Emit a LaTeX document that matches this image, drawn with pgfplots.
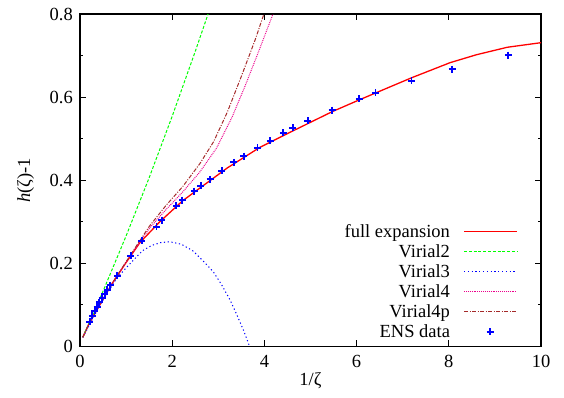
\documentclass[border=0pt]{standalone}
\usepackage{pgfplots}
\pgfplotsset{compat=1.18}
\usepackage{fontspec}
\setmainfont{Liberation Serif}
\definecolor{vbrown}{RGB}{165,42,42}
\begin{document}
\fontsize{18.5bp}{21bp}\selectfont%
\begin{tikzpicture}
\useasboundingbox (-80bp,-51.5bp) rectangle (484bp,346.5bp);
\begin{axis}[
  at={(0,0)}, anchor=south west,
  scale only axis, width=461bp, height=332.5bp,
  xmin=0, xmax=10, ymin=0, ymax=0.8,
  xtick={0,2,4,6,8,10}, ytick={0,0.2,0.4,0.6,0.8},
  minor ytick={0.1,0.3,0.5,0.7},
  tick align=inside, tick pos=both,
  major tick length=6bp, minor tick length=3.5bp,
  axis line style={line width=1.6bp},
  every tick/.style={black, line width=1bp},
  /pgf/number format/assume math mode=true,
  /pgf/number format/fixed,
  yticklabel style={inner xsep=0pt, xshift=-7bp},
  xticklabel style={inner ysep=0pt, yshift=-8.5bp},
  xlabel={1/ζ}, ylabel={\textit{h}(ζ)-1},
  every axis x label/.style={at={(axis description cs:0.5,-0.1038)}, anchor=center},
  every axis y label/.style={at={(axis description cs:-0.118,0.5)}, anchor=center, rotate=90},
]
% full expansion
\addplot[red, line width=1.3bp, forget plot] coordinates {
(0.06,0.022)(0.2,0.056)(0.47,0.108)(0.7,0.152)(1.0,0.202)(1.3,0.250)(1.73,0.300)
(2.22,0.350)(2.45,0.369)(3.2,0.430)(3.9,0.479)(4.55,0.515)(5.47,0.565)(6.05,0.593)
(7.18,0.646)(8.03,0.683)(8.6,0.702)(9.27,0.720)(10,0.731)};
% Virial2
\addplot[green, line width=1bp, dash pattern=on 3bp off 1.8bp, forget plot] coordinates {
(0.06,0.022)(0.5,0.133)(1.0,0.266)(1.5,0.406)(2.0,0.554)(2.5,0.710)(2.8,0.807)};
% Virial3
\addplot[blue, line width=1bp, dash pattern=on 1.2bp off 2.6bp, forget plot] coordinates {
(0.06,0.022)(0.47,0.107)(0.8,0.165)(1.1,0.201)(1.35,0.230)(1.55,0.243)(1.75,0.250)
(1.95,0.252)(2.2,0.246)(2.45,0.230)(2.67,0.206)(2.89,0.180)(3.07,0.149)(3.25,0.113)
(3.40,0.077)(3.54,0.041)(3.67,0.003)(3.68,0)};
% Virial4
\addplot[magenta, line width=1bp, dash pattern=on 0.9bp off 1bp, forget plot] coordinates {
(0.06,0.022)(0.2,0.056)(0.47,0.108)(0.7,0.152)(1.0,0.203)(1.3,0.252)(1.51,0.285)
(1.87,0.330)(2.23,0.372)(2.60,0.420)(2.96,0.477)(3.3,0.552)(3.6,0.632)(3.9,0.717)
(4.2,0.804)(4.23,0.812)};
% Virial4p
\addplot[vbrown, line width=1bp, dash pattern=on 4bp off 1.5bp on 1bp off 1.5bp, forget plot] coordinates {
(0.06,0.022)(0.2,0.056)(0.47,0.108)(0.7,0.152)(1.0,0.204)(1.3,0.255)(1.51,0.290)
(1.87,0.340)(2.23,0.385)(2.60,0.440)(2.9,0.493)(3.2,0.565)(3.5,0.650)(3.8,0.738)(4.02,0.81)};
% ENS data
\addplot[blue, line width=1.9bp, mark=+, mark size=3.5bp, only marks, forget plot] coordinates {
(0.21,0.059)(0.27,0.074)(0.32,0.086)(0.37,0.096)(0.42,0.106)(0.48,0.116)(0.54,0.126)
(0.59,0.136)(0.66,0.147)(0.81,0.170)(1.10,0.218)(1.34,0.254)(1.66,0.288)(1.77,0.304)
(2.09,0.339)(2.22,0.352)(2.48,0.374)(2.62,0.387)(2.82,0.402)(3.08,0.423)(3.34,0.443)
(3.55,0.458)(3.85,0.478)(4.13,0.495)(4.41,0.514)(4.62,0.526)(4.94,0.543)(5.47,0.569)
(6.06,0.596)(6.41,0.611)(7.19,0.639)(8.07,0.667)(9.29,0.701)};
% legend keys
\addplot[red, line width=1.5bp, forget plot] coordinates {(8.33,0.2762)(9.48,0.2762)};
\addplot[green, line width=1.2bp, dash pattern=on 3bp off 1.8bp, forget plot] coordinates {(8.33,0.2282)(9.48,0.2282)};
\addplot[blue, line width=1.2bp, dash pattern=on 1.2bp off 2.6bp, forget plot] coordinates {(8.33,0.1800)(9.48,0.1800)};
\addplot[magenta, line width=1.2bp, dash pattern=on 0.9bp off 1bp, forget plot] coordinates {(8.33,0.1318)(9.48,0.1318)};
\addplot[vbrown, line width=1.2bp, dash pattern=on 4bp off 1.5bp on 1bp off 1.5bp, forget plot] coordinates {(8.33,0.0838)(9.48,0.0838)};
\addplot[blue, line width=1.9bp, mark=+, mark size=3.5bp, only marks, forget plot] coordinates {(8.894,0.0356)};
\node[anchor=base east, inner sep=0pt] at (axis cs:8.03,0.2627) {full expansion};
\node[anchor=base east, inner sep=0pt] at (axis cs:8.03,0.2147) {Virial2};
\node[anchor=base east, inner sep=0pt] at (axis cs:8.03,0.1665) {Virial3};
\node[anchor=base east, inner sep=0pt] at (axis cs:8.03,0.1183) {Virial4};
\node[anchor=base east, inner sep=0pt] at (axis cs:8.03,0.0703) {Virial4p};
\node[anchor=base east, inner sep=0pt] at (axis cs:8.03,0.0221) {ENS data};
\end{axis}
\end{tikzpicture}
\end{document}
